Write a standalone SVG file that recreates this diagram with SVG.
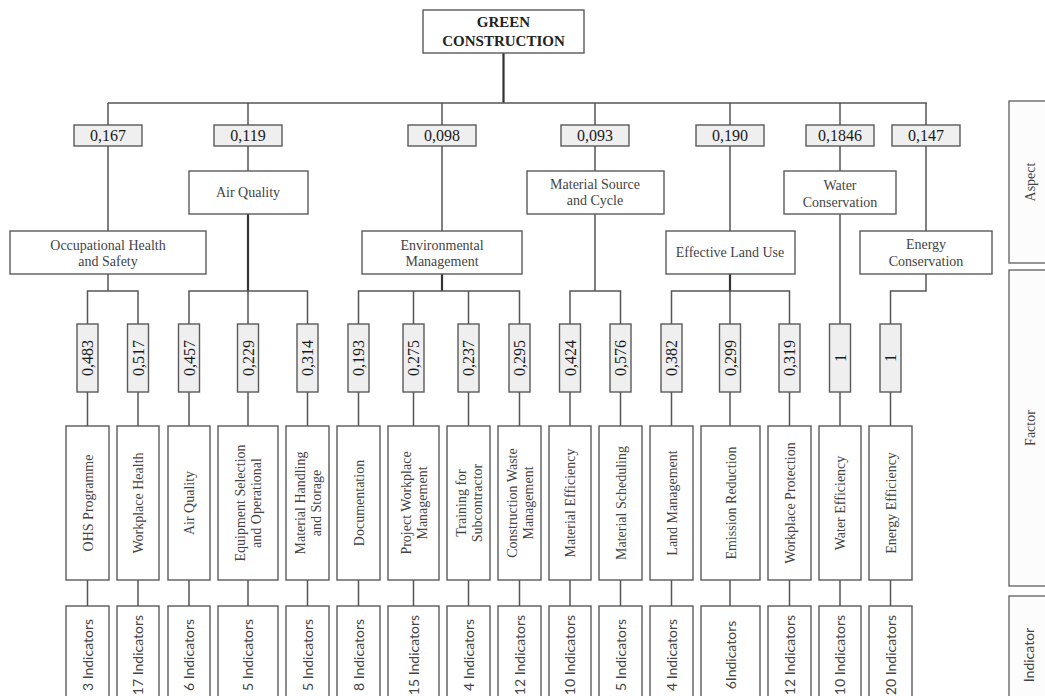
<svg xmlns="http://www.w3.org/2000/svg" width="1045" height="696" viewBox="0 0 1045 696">
<style>
.bx{fill:#fff;stroke:#5a5a5a;stroke-width:1.4}
.wb{fill:#efefef;stroke:#5a5a5a;stroke-width:1.4}
.sb{fill:#fcfcfc;stroke:#6a6a6a;stroke-width:1.4}
.c{fill:none;stroke:#555;stroke-width:1.5}
.ct{fill:none;stroke:#333;stroke-width:2.2}
.t{font-family:"Liberation Serif","Times New Roman",serif;font-size:14px;fill:#444;text-anchor:middle}
.w{font-family:"Liberation Serif","Times New Roman",serif;font-size:16px;fill:#1a1a1a;text-anchor:middle}
.ti{font-family:"Liberation Serif","Times New Roman",serif;font-size:15px;font-weight:bold;fill:#222;text-anchor:middle}
.i{font-family:Lato,"Open Sans",sans-serif;font-size:14px;fill:#444;text-anchor:middle}
</style>
<rect width="1045" height="696" fill="#fff"/>
<g id="connectors">
<path class="ct" d="M503.5,53V103"/>
<path class="c" d="M108,103H927"/>
<path class="c" d="M108,103V125M248,103V125M442,103V125M595,103V125M730,103V125M840,103V125M926,103V125"/>
<path class="c" d="M108,146V231M248,146V171M442,146V231M595,146V171M730,146V231M840,146V171M926,146V231"/>
<path class="c" d="M108,274V291M87.5,324V291H138V324"/>
<path class="ct" d="M248,214V291"/>
<path class="c" d="M189,324V291H307.5V324M248,291V324"/>
<path class="ct" d="M442,274V291"/>
<path class="c" d="M358.5,324V291H519.5V324M413.5,291V324M468.5,291V324"/>
<path class="c" d="M595,214V291M570,324V291H620.5V324"/>
<path class="ct" d="M730,274V291"/>
<path class="c" d="M671.5,324V291H789.5V324M730,291V324"/>
<path class="c" d="M840,214V324"/>
<path class="c" d="M926,274V291H890.5V324"/>
<path class="c" d="M87.5,392V426M138,392V426M189,392V426M248,392V426M307.5,392V426M358.5,392V426M413.5,392V426M468.5,392V426M519.5,392V426M570,392V426M620.5,392V426M671.5,392V426M730,392V426M789.5,392V426M840,392V426M890.5,392V426"/>
<path class="c" d="M87.5,580V606M138,580V606M189,580V606M248,580V606M307.5,580V606M358.5,580V606M413.5,580V606M468.5,580V606M519.5,580V606M570,580V606M620.5,580V606M671.5,580V606M730,580V606M789.5,580V606M840,580V606M890.5,580V606"/>
</g>
<g id="root">
<rect class="bx" x="423" y="10" width="161" height="43"/>
<text class="ti" x="503.5" y="27">GREEN</text>
<text class="ti" x="503.5" y="46">CONSTRUCTION</text>
</g>
<g id="aspect-weights">
<rect class="wb" x="74" y="125" width="68" height="21"/><text class="w" x="108" y="141">0,167</text>
<rect class="wb" x="214" y="125" width="68" height="21"/><text class="w" x="248" y="141">0,119</text>
<rect class="wb" x="408" y="125" width="68" height="21"/><text class="w" x="442" y="141">0,098</text>
<rect class="wb" x="561" y="125" width="68" height="21"/><text class="w" x="595" y="141">0,093</text>
<rect class="wb" x="696" y="125" width="68" height="21"/><text class="w" x="730" y="141">0,190</text>
<rect class="wb" x="806" y="125" width="68" height="21"/><text class="w" x="840" y="141">0,1846</text>
<rect class="wb" x="892" y="125" width="68" height="21"/><text class="w" x="926" y="141">0,147</text>
</g>
<g id="aspect-ohs"><rect class="bx" x="10" y="231" width="196" height="43"/><text class="t" x="108" y="250">Occupational Health</text><text class="t" x="108" y="266">and Safety</text></g>
<g id="aspect-air"><rect class="bx" x="189" y="171" width="119" height="43"/><text class="t" x="248" y="197">Air Quality</text></g>
<g id="aspect-env"><rect class="bx" x="362" y="231" width="160" height="43"/><text class="t" x="442" y="250">Environmental</text><text class="t" x="442" y="266">Management</text></g>
<g id="aspect-material"><rect class="bx" x="527" y="171" width="137" height="43"/><text class="t" x="595" y="189">Material Source</text><text class="t" x="595" y="205">and Cycle</text></g>
<g id="aspect-land"><rect class="bx" x="666" y="231" width="129" height="43"/><text class="t" x="730" y="257">Effective Land Use</text></g>
<g id="aspect-water"><rect class="bx" x="784" y="171" width="112" height="43"/><text class="t" x="840" y="190">Water</text><text class="t" x="840" y="207">Conservation</text></g>
<g id="aspect-energy"><rect class="bx" x="860" y="231" width="132" height="43"/><text class="t" x="926" y="249">Energy</text><text class="t" x="926" y="266">Conservation</text></g>
<g id="factor-weights">
<rect class="wb" x="77" y="324" width="21" height="68"/><text class="w" transform="translate(87.5,358) rotate(-90)" y="5.5">0,483</text>
<rect class="wb" x="127.5" y="324" width="21" height="68"/><text class="w" transform="translate(138,358) rotate(-90)" y="5.5">0,517</text>
<rect class="wb" x="178.5" y="324" width="21" height="68"/><text class="w" transform="translate(189,358) rotate(-90)" y="5.5">0,457</text>
<rect class="wb" x="237.5" y="324" width="21" height="68"/><text class="w" transform="translate(248,358) rotate(-90)" y="5.5">0,229</text>
<rect class="wb" x="297" y="324" width="21" height="68"/><text class="w" transform="translate(307.5,358) rotate(-90)" y="5.5">0,314</text>
<rect class="wb" x="348" y="324" width="21" height="68"/><text class="w" transform="translate(358.5,358) rotate(-90)" y="5.5">0,193</text>
<rect class="wb" x="403" y="324" width="21" height="68"/><text class="w" transform="translate(413.5,358) rotate(-90)" y="5.5">0,275</text>
<rect class="wb" x="458" y="324" width="21" height="68"/><text class="w" transform="translate(468.5,358) rotate(-90)" y="5.5">0,237</text>
<rect class="wb" x="509" y="324" width="21" height="68"/><text class="w" transform="translate(519.5,358) rotate(-90)" y="5.5">0,295</text>
<rect class="wb" x="559.5" y="324" width="21" height="68"/><text class="w" transform="translate(570,358) rotate(-90)" y="5.5">0,424</text>
<rect class="wb" x="610" y="324" width="21" height="68"/><text class="w" transform="translate(620.5,358) rotate(-90)" y="5.5">0,576</text>
<rect class="wb" x="661" y="324" width="21" height="68"/><text class="w" transform="translate(671.5,358) rotate(-90)" y="5.5">0,382</text>
<rect class="wb" x="719.5" y="324" width="21" height="68"/><text class="w" transform="translate(730,358) rotate(-90)" y="5.5">0,299</text>
<rect class="wb" x="779" y="324" width="21" height="68"/><text class="w" transform="translate(789.5,358) rotate(-90)" y="5.5">0,319</text>
<rect class="wb" x="829.5" y="324" width="21" height="68"/><text class="w" transform="translate(840,358) rotate(-90)" y="5.5">1</text>
<rect class="wb" x="880" y="324" width="21" height="68"/><text class="w" transform="translate(890.5,358) rotate(-90)" y="5.5">1</text>
</g>
<g id="factors">
<g id="f-ohs"><rect class="bx" x="66" y="426" width="43" height="154"/><text class="t" transform="translate(87.5,503) rotate(-90)" y="5">OHS Programme</text></g>
<g id="f-workplace-health"><rect class="bx" x="117" y="426" width="42" height="154"/><text class="t" transform="translate(138,503) rotate(-90)" y="5">Workplace Health</text></g>
<g id="f-air-quality"><rect class="bx" x="168" y="426" width="42" height="154"/><text class="t" transform="translate(189,503) rotate(-90)" y="5">Air Quality</text></g>
<g id="f-equipment"><rect class="bx" x="218" y="426" width="60" height="154"/><text class="t" transform="translate(248,503) rotate(-90)" y="-3">Equipment Selection</text><text class="t" transform="translate(248,503) rotate(-90)" y="13">and Operational</text></g>
<g id="f-material-handling"><rect class="bx" x="286" y="426" width="43" height="154"/><text class="t" transform="translate(307.5,503) rotate(-90)" y="-3">Material Handling</text><text class="t" transform="translate(307.5,503) rotate(-90)" y="13">and Storage</text></g>
<g id="f-documentation"><rect class="bx" x="337" y="426" width="43" height="154"/><text class="t" transform="translate(358.5,503) rotate(-90)" y="5">Documentation</text></g>
<g id="f-project"><rect class="bx" x="388" y="426" width="51" height="154"/><text class="t" transform="translate(413.5,503) rotate(-90)" y="-3">Project Workplace</text><text class="t" transform="translate(413.5,503) rotate(-90)" y="13">Management</text></g>
<g id="f-training"><rect class="bx" x="447" y="426" width="43" height="154"/><text class="t" transform="translate(468.5,503) rotate(-90)" y="-3">Training for</text><text class="t" transform="translate(468.5,503) rotate(-90)" y="13">Subcontractor</text></g>
<g id="f-waste"><rect class="bx" x="498" y="426" width="43" height="154"/><text class="t" transform="translate(519.5,503) rotate(-90)" y="-3">Construction Waste</text><text class="t" transform="translate(519.5,503) rotate(-90)" y="13">Management</text></g>
<g id="f-material-eff"><rect class="bx" x="549" y="426" width="42" height="154"/><text class="t" transform="translate(570,503) rotate(-90)" y="5">Material Efficiency</text></g>
<g id="f-material-sched"><rect class="bx" x="599" y="426" width="43" height="154"/><text class="t" transform="translate(620.5,503) rotate(-90)" y="5">Material Scheduling</text></g>
<g id="f-land"><rect class="bx" x="650" y="426" width="43" height="154"/><text class="t" transform="translate(671.5,503) rotate(-90)" y="5">Land Management</text></g>
<g id="f-emission"><rect class="bx" x="701" y="426" width="59" height="154"/><text class="t" transform="translate(730.5,503) rotate(-90)" y="5">Emission Reduction</text></g>
<g id="f-workplace-prot"><rect class="bx" x="768" y="426" width="43" height="154"/><text class="t" transform="translate(789.5,503) rotate(-90)" y="5">Workplace Protection</text></g>
<g id="f-water"><rect class="bx" x="819" y="426" width="42" height="154"/><text class="t" transform="translate(840,503) rotate(-90)" y="5">Water Efficiency</text></g>
<g id="f-energy"><rect class="bx" x="869" y="426" width="43" height="154"/><text class="t" transform="translate(890.5,503) rotate(-90)" y="5">Energy Efficiency</text></g>
</g>
<g id="indicators">
<g id="i1"><rect class="bx" x="66" y="606" width="43" height="100"/><text class="i" transform="translate(87.5,655) rotate(-90)" y="5">3 Indicators</text></g>
<g id="i2"><rect class="bx" x="117" y="606" width="42" height="100"/><text class="i" transform="translate(138,655) rotate(-90)" y="5">17 Indicators</text></g>
<g id="i3"><rect class="bx" x="168" y="606" width="42" height="100"/><text class="i" transform="translate(189,655) rotate(-90)" y="5">6 Indicators</text></g>
<g id="i4"><rect class="bx" x="218" y="606" width="60" height="100"/><text class="i" transform="translate(248,655) rotate(-90)" y="5">5 Indicators</text></g>
<g id="i5"><rect class="bx" x="286" y="606" width="43" height="100"/><text class="i" transform="translate(307.5,655) rotate(-90)" y="5">5 Indicators</text></g>
<g id="i6"><rect class="bx" x="337" y="606" width="43" height="100"/><text class="i" transform="translate(358.5,655) rotate(-90)" y="5">8 Indicators</text></g>
<g id="i7"><rect class="bx" x="388" y="606" width="51" height="100"/><text class="i" transform="translate(413.5,655) rotate(-90)" y="5">15 Indicators</text></g>
<g id="i8"><rect class="bx" x="447" y="606" width="43" height="100"/><text class="i" transform="translate(468.5,655) rotate(-90)" y="5">4 Indicators</text></g>
<g id="i9"><rect class="bx" x="498" y="606" width="43" height="100"/><text class="i" transform="translate(519.5,655) rotate(-90)" y="5">12 Indicators</text></g>
<g id="i10"><rect class="bx" x="549" y="606" width="42" height="100"/><text class="i" transform="translate(570,655) rotate(-90)" y="5">10 Indicators</text></g>
<g id="i11"><rect class="bx" x="599" y="606" width="43" height="100"/><text class="i" transform="translate(620.5,655) rotate(-90)" y="5">5 Indicators</text></g>
<g id="i12"><rect class="bx" x="650" y="606" width="43" height="100"/><text class="i" transform="translate(671.5,655) rotate(-90)" y="5">4 Indicators</text></g>
<g id="i13"><rect class="bx" x="701" y="606" width="59" height="100"/><text class="i" transform="translate(730.5,655) rotate(-90)" y="5">6Indicators</text></g>
<g id="i14"><rect class="bx" x="768" y="606" width="43" height="100"/><text class="i" transform="translate(789.5,655) rotate(-90)" y="5">12 Indicators</text></g>
<g id="i15"><rect class="bx" x="819" y="606" width="42" height="100"/><text class="i" transform="translate(840,655) rotate(-90)" y="5">10 Indicators</text></g>
<g id="i16"><rect class="bx" x="869" y="606" width="43" height="100"/><text class="i" transform="translate(890.5,655) rotate(-90)" y="5">20 Indicators</text></g>
</g>
<g id="level-labels">
<g id="lbl-aspect"><rect class="sb" x="1009" y="101" width="50" height="162"/><text class="t" fill="#555" transform="translate(1030,182) rotate(-90)" y="5">Aspect</text></g>
<g id="lbl-factor"><rect class="sb" x="1009" y="270" width="50" height="316"/><text class="t" transform="translate(1030,428) rotate(-90)" y="5">Factor</text></g>
<g id="lbl-indicator"><rect class="sb" x="1009" y="596" width="50" height="110"/><text class="i" transform="translate(1029,655) rotate(-90)" y="5">Indicator</text></g>
</g>
</svg>
